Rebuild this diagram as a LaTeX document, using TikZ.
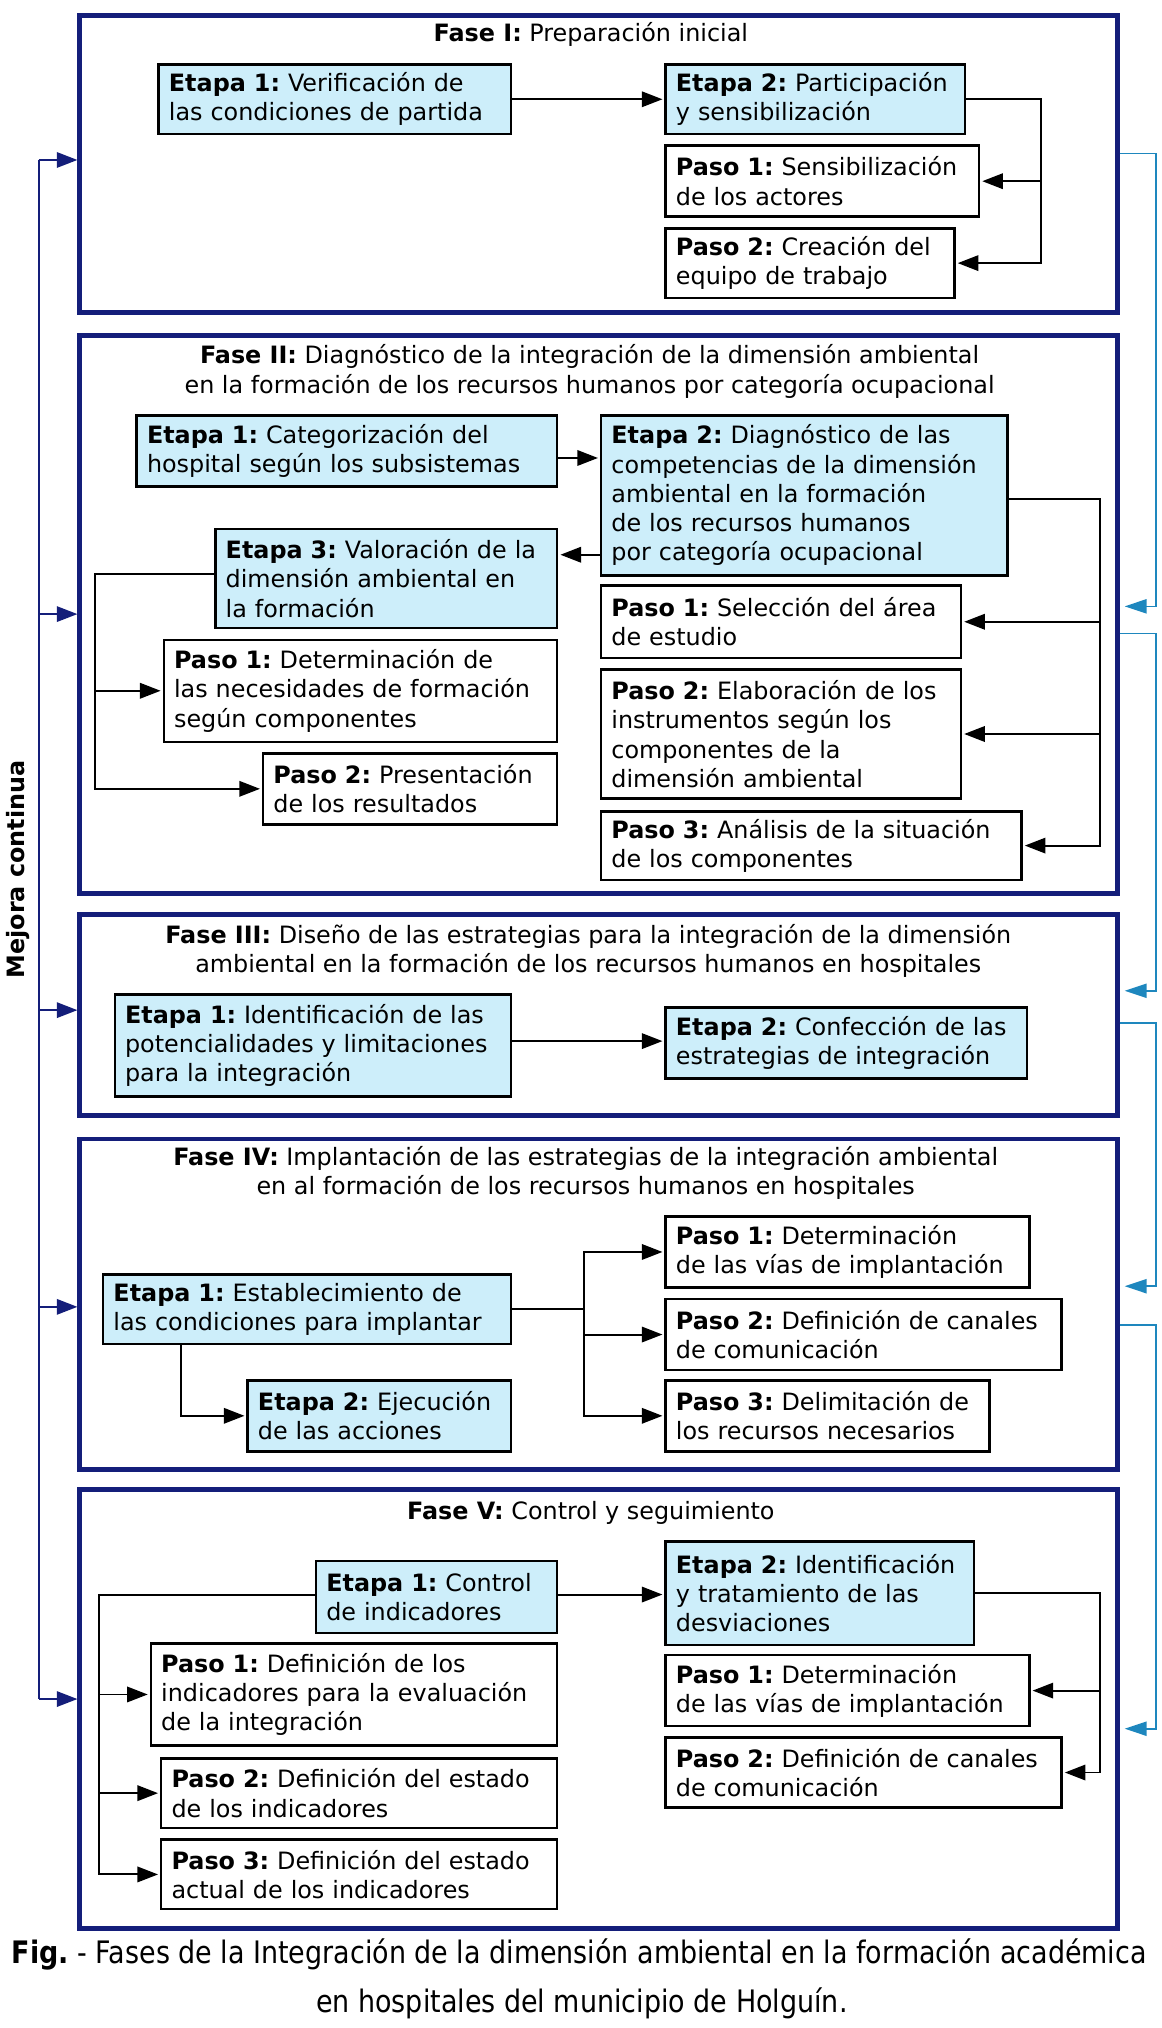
\documentclass[tikz,border=0pt]{standalone}
\usepackage{fontspec}
\setmainfont{DejaVu Sans}
\newfontfamily\capfont{DejaVu Sans}[FakeStretch=0.87]
\usetikzlibrary{arrows.meta}
\frenchspacing
\definecolor{navy}{RGB}{20,30,122}
\definecolor{etfill}{RGB}{205,238,250}
\definecolor{teal2}{RGB}{30,135,190}
\newcommand\boxfont{\fontsize{18.5}{22.7}\selectfont\frenchspacing}
\newcommand\bx[7]{%
  \pgfmathsetmacro\bxw{#5-(#3)}%
  \pgfmathsetmacro\bxh{#6-(#4)}%
  \pgfmathsetmacro\bxt{#5-(#3)-16}%
  \node[#2,anchor=north west,minimum width=\bxw pt,minimum height=\bxh pt,
        text width=\bxt pt,inner xsep=8pt,inner ysep=0pt,align=left] (#1) at (#3,#4) {#7};}
\tikzset{
  fase/.style={draw=navy, line width=3.8pt},
  etapa/.style={draw=black, fill=etfill, line width=1.9pt, font=\boxfont},
  paso/.style={draw=black, fill=white, line width=1.9pt, font=\boxfont},
  ttl/.style={align=center, font=\boxfont, inner sep=0pt},
  con/.style={line width=1.5pt},
  arr/.style={con, -{Triangle[length=16pt,width=12pt]}, shorten >=1.5pt},
  navyarr/.style={draw=navy, line width=1.4pt, -{Triangle[length=16pt,width=12pt]}},
  tealarr/.style={draw=teal2, line width=1.3pt, -{Triangle[length=17pt,width=11pt]}, shorten >=4pt},
}
\begin{document}
\begin{tikzpicture}[x=1pt,y=-1pt]
\useasboundingbox (0,0) rectangle (900,1572);
% ---------------- Fase I
\bx{f1}{fase}{60}{10}{864}{240}{}
\node[ttl] (t1) at (458,27) {\textbf{Fase I:} Preparación inicial};
\bx{e11}{etapa}{122}{49}{395}{103}{\textbf{Etapa 1:} Verificación de\\las condiciones de partida}
\bx{e12}{etapa}{515}{49}{747}{103}{\textbf{Etapa 2:} Participación\\y sensibilización}
\bx{p11}{paso}{515}{112}{758}{167}{\textbf{Paso 1:} Sensibilización\\de los actores}
\bx{p12}{paso}{515}{176}{739}{230}{\textbf{Paso 2:} Creación del\\equipo de trabajo}
\draw[arr] (e11.east) -- (e12.west);
\coordinate (r1) at (807,0);
\draw[arr] (e12.east) -| (r1 |- p12.east) -- (p12.east);
\draw[arr] (r1 |- p11.east) -- (p11.east);
% ---------------- Fase II
\bx{f2}{fase}{60}{258}{864}{691}{}
\node[ttl] (t2) at (457,288) {\textbf{Fase II:} Diagnóstico de la integración de la dimensión ambiental\\en la formación de los recursos humanos por categoría ocupacional};
\bx{e21}{etapa}{105}{321}{431}{376}{\textbf{Etapa 1:} Categorización del\\hospital según los subsistemas}
\bx{e22}{etapa}{465}{321}{780}{445}{\textbf{Etapa 2:} Diagnóstico de las\\competencias de la dimensión\\ambiental en la formación\\de los recursos humanos\\por categoría ocupacional}
\bx{e23}{etapa}{166}{409}{431}{486}{\textbf{Etapa 3:} Valoración de la\\dimensión ambiental en\\la formación}
\bx{p21L}{paso}{126}{495}{431}{574}{\textbf{Paso 1:} Determinación de\\las necesidades de formación\\según componentes}
\bx{p22L}{paso}{203}{583}{431}{638}{\textbf{Paso 2:} Presentación\\de los resultados}
\bx{p21R}{paso}{465}{453}{744}{509}{\textbf{Paso 1:} Selección del área\\de estudio}
\bx{p22R}{paso}{465}{518}{744}{618}{\textbf{Paso 2:} Elaboración de los\\instrumentos según los\\componentes de la\\dimensión ambiental}
\bx{p23R}{paso}{465}{628}{791}{681}{\textbf{Paso 3:} Análisis de la situación\\de los componentes}
\draw[arr] (e21.east |- 0,355) -- (e22.west |- 0,355);
\draw[arr] (e22.west |- 0,430) -- (e23.east |- 0,430);
\coordinate (r2) at (853,0);
\draw[arr] (e22.east |- 0,387) -| (r2 |- p23R.east) -- (p23R.east);
\draw[arr] (r2 |- p21R.east) -- (p21R.east);
\draw[arr] (r2 |- p22R.east) -- (p22R.east);
\coordinate (l2) at (74,0);
\draw[arr] (e23.west |- 0,445) -| (l2 |- p22L.west) -- (p22L.west);
\draw[arr] (l2 |- p21L.west) -- (p21L.west);
% ---------------- Fase III
\bx{f3}{fase}{60}{707}{864}{863}{}
\node[ttl] (t3) at (456,737) {\textbf{Fase III:} Diseño de las estrategias para la integración de la dimensión\\ambiental en la formación de los recursos humanos en hospitales};
\bx{e31}{etapa}{88}{770}{395}{849}{\textbf{Etapa 1:} Identificación de las\\potencialidades y limitaciones\\para la integración}
\bx{e32}{etapa}{515}{780}{795}{835}{\textbf{Etapa 2:} Confección de las\\estrategias de integración}
\draw[arr] (e31.east |- 0,807) -- (e32.west |- 0,807);
% ---------------- Fase IV
\bx{f4}{fase}{60}{881}{864}{1137}{}
\node[ttl] (t4) at (454,909) {\textbf{Fase IV:} Implantación de las estrategias de la integración ambiental\\en al formación de los recursos humanos en hospitales};
\bx{p41}{paso}{515}{942}{797}{997}{\textbf{Paso 1:} Determinación\\de las vías de implantación}
\bx{p42}{paso}{515}{1006}{822}{1061}{\textbf{Paso 2:} Definición de canales\\de comunicación}
\bx{p43}{paso}{515}{1069}{766}{1124}{\textbf{Paso 3:} Delimitación de\\los recursos necesarios}
\bx{e41}{etapa}{79}{987}{395}{1041}{\textbf{Etapa 1:} Establecimiento de\\las condiciones para implantar}
\bx{e42}{etapa}{191}{1069}{395}{1124}{\textbf{Etapa 2:} Ejecución\\de las acciones}
\coordinate (b4) at (453,0);
\draw[con] (e41.east) -- (b4 |- e41.east);
\draw[arr] (b4 |- e41.east) |- (p41.west);
\draw[arr] (b4 |- e41.east) |- (p43.west);
\draw[arr] (b4 |- p42.west) -- (p42.west);
\draw[arr] (e41.south -| 140,0) |- (e42.west);
% ---------------- Fase V
\bx{f5}{fase}{60}{1153}{864}{1493}{}
\node[ttl] (t5) at (458,1173) {\textbf{Fase V:} Control y seguimiento};
\bx{e51}{etapa}{244}{1209}{431}{1265}{\textbf{Etapa 1:} Control\\de indicadores}
\bx{e52}{etapa}{515}{1194}{754}{1274}{\textbf{Etapa 2:} Identificación\\y tratamiento de las\\desviaciones}
\bx{p51L}{paso}{116}{1273}{431}{1352}{\textbf{Paso 1:} Definición de los\\indicadores para la evaluación\\de la integración}
\bx{p52L}{paso}{124}{1362}{431}{1416}{\textbf{Paso 2:} Definición del estado\\de los indicadores}
\bx{p53L}{paso}{124}{1425}{431}{1479}{\textbf{Paso 3:} Definición del estado\\actual de los indicadores}
\bx{p51R}{paso}{515}{1282}{797}{1337}{\textbf{Paso 1:} Determinación\\de las vías de implantación}
\bx{p52R}{paso}{515}{1346}{822}{1400}{\textbf{Paso 2:} Definición de canales\\de comunicación}
\draw[arr] (e51.east |- 0,1236) -- (e52.west |- 0,1236);
\coordinate (l5) at (77,0);
\draw[arr] (e51.west |- 0,1236) -| (l5 |- p53L.west) -- (p53L.west);
\draw[arr] (l5 |- p51L.west) -- (p51L.west);
\draw[arr] (l5 |- p52L.west) -- (p52L.west);
\coordinate (r5) at (853,0);
\draw[arr] (e52.east) -| (r5 |- p52R.east) -- (p52R.east);
\draw[arr] (r5 |- p51R.east) -- (p51R.east);
% ---------------- Mejora continua (left)
\coordinate (L) at (30,0);
\draw[navy, line width=1.4pt] (L |- 0,124) -- (L |- 0,1317);
\foreach \n/\yy in {f1/124,f2/476,f3/783,f4/1013,f5/1317}
  \draw[navyarr] (L |- 0,\yy) -- (\n.west |- 0,\yy);
\node[rotate=90, font=\boxfont\bfseries, inner sep=0pt] (mc) at (14,674) {Mejora continua};
% ---------------- right feedback connectors
\coordinate (R) at (896,0);
\draw[tealarr] (f1.east |- 0,119) -| (R |- 0,470) -- (f2.east |- 0,470);
\draw[tealarr] (f2.east |- 0,491) -| (R |- 0,768) -- (f3.east |- 0,768);
\draw[tealarr] (f3.east |- 0,793) -| (R |- 0,997) -- (f4.east |- 0,997);
\draw[tealarr] (f4.east |- 0,1027) -| (R |- 0,1340) -- (f5.east |- 0,1340);
% ---------------- caption
\node[font=\capfont\fontsize{24}{28}\selectfont, inner sep=0pt] (cap1) at (449,1515) {\textbf{Fig.} - Fases de la Integración de la dimensión ambiental en la formación académica};
\node[font=\capfont\fontsize{24}{28}\selectfont, inner sep=0pt] (cap2) at (451,1553) {en hospitales del municipio de Holguín.};
\end{tikzpicture}
\end{document}
